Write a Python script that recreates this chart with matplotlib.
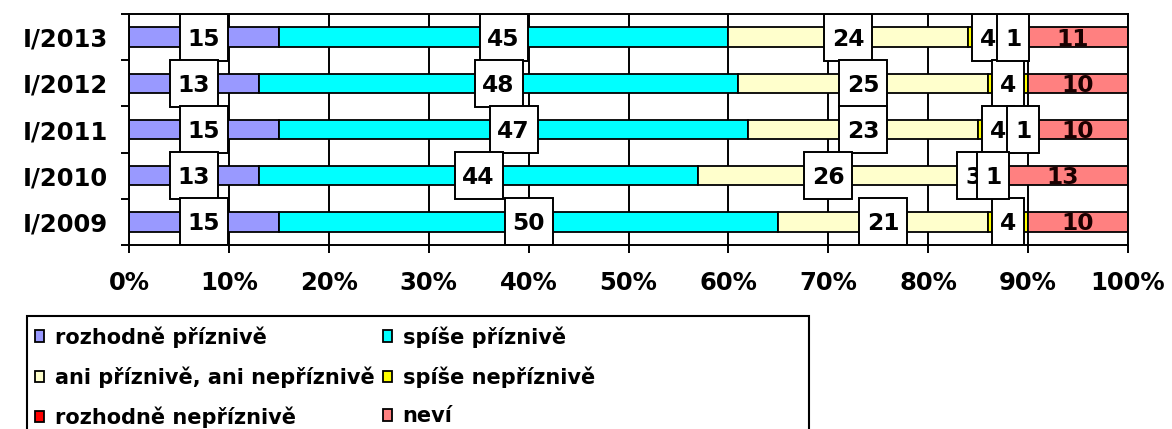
import matplotlib
matplotlib.use("Agg")
import matplotlib.pyplot as plt
from matplotlib.patches import Rectangle
from matplotlib.transforms import IdentityTransform

years = ["I/2013", "I/2012", "I/2011", "I/2010", "I/2009"]
series_names = ["rozhodně příznivě", "spíše příznivě", "ani příznivě, ani nepříznivě",
                "spíše nepříznivě", "rozhodně nepříznivě", "neví"]
rozhodne_prizn = [15, 13, 15, 13, 15]
spise_prizn = [45, 48, 47, 44, 50]
ani_ani = [24, 25, 23, 26, 21]
spise_neprizn = [4, 4, 4, 3, 4]
rozhodne_neprizn = [1, 0, 1, 1, 0]
nevi = [11, 10, 10, 13, 10]
colors = ["#9999FF", "#00FFFF", "#FFFFCC", "#FFFF00", "#FF0000", "#FF8080"]
x_ticks = [0, 10, 20, 30, 40, 50, 60, 70, 80, 90, 100]


def main():
    plt.rcParams["font.family"] = "DejaVu Sans"
    plt.rcParams["font.weight"] = "bold"
    fs = 16.8
    fs_tick = 17.5

    data = [rozhodne_prizn, spise_prizn, ani_ani, spise_neprizn, rozhodne_neprizn, nevi]

    fig = plt.figure(figsize=(11.72, 4.29), dpi=100)
    W, H = 1172, 429
    ax = fig.add_axes([129 / W, 1 - 245 / H, (1128 - 129) / W, (245 - 14) / H])

    ypos = list(range(len(years)))
    left = [0] * len(years)
    bars = []
    for vals, name, col in zip(data, series_names, colors):
        b = ax.barh(ypos, vals, left=left, height=0.42, color=col,
                    edgecolor="black", linewidth=1.3, label=name, zorder=3)
        bars.append(b)
        left = [l + v for l, v in zip(left, vals)]

    ax.set_xlim(0, 100)
    ax.set_ylim(len(years) - 0.5, -0.5)

    # data labels: white boxed labels, neví without box (clipped to its bar)
    cap = fs * 100 / 72 * 0.729
    left = [0] * len(years)
    z = 4.0
    for si, vals in enumerate(data):
        for i, v in enumerate(vals):
            if v <= 0:
                continue
            cx = left[i] + v / 2
            px, py = ax.transData.transform((cx, i))
            s = str(v)
            if si == len(data) - 1:
                t = ax.text(px, py - cap / 2, s, ha="center", va="baseline",
                            fontsize=fs, fontweight="bold", color="#1a0000",
                            transform=IdentityTransform(), zorder=z)
                t.set_clip_path(bars[si].patches[i])
            else:
                bw = 15 + 16.5 * len(s)
                bh = 47
                r = Rectangle((px - bw / 2, py - bh / 2), bw, bh, facecolor="white",
                              edgecolor="black", linewidth=1.4,
                              transform=IdentityTransform(), zorder=z)
                ax.add_patch(r)
                ax.text(px, py - cap / 2, s, ha="center", va="baseline",
                        fontsize=fs, fontweight="bold",
                        transform=IdentityTransform(), zorder=z + 0.005)
            z += 0.01
        left = [l + v for l, v in zip(left, vals)]

    ax.set_xticks(x_ticks)
    ax.set_xticklabels([f"{t}%" for t in x_ticks], fontsize=fs_tick, fontweight="bold")
    ax.set_yticks(ypos)
    ax.set_yticklabels(years, fontsize=fs_tick, fontweight="bold")
    ax.set_yticks([p - 0.5 for p in range(len(years) + 1)], minor=True)
    ax.tick_params(axis="y", which="major", length=0, pad=15)
    ax.tick_params(axis="y", which="minor", length=6, width=1.4, direction="out")
    ax.tick_params(axis="x", which="major", length=6, width=1.4, direction="out", pad=12.5)
    ax.grid(axis="x", color="black", linewidth=1.4, zorder=0)
    ax.set_axisbelow(True)
    for s in ax.spines.values():
        s.set_linewidth(1.4)
        s.set_zorder(10)

    # legend (row by row order like the original)
    order = [0, 2, 4, 1, 3, 5]
    handles = [bars[k] for k in order]
    labels = [series_names[k] for k in order]
    fig.legend(handles, labels, ncol=2, loc="upper left",
               bbox_to_anchor=(35 / W, 1 - 326 / H), frameon=False,
               prop=dict(size=15, weight="bold"), handlelength=0.45,
               handleheight=0.45, handletextpad=0.5, columnspacing=0.4,
               labelspacing=0.9, borderpad=0, borderaxespad=0)
    fig.patches.append(Rectangle((27 / W, -0.05), (809 - 27) / W, 0.05 + 1 - 316 / H,
                                 transform=fig.transFigure, fill=False,
                                 edgecolor="black", linewidth=1.5))

    fig.savefig("out.png", dpi=100)


if __name__ == "__main__":
    main()
